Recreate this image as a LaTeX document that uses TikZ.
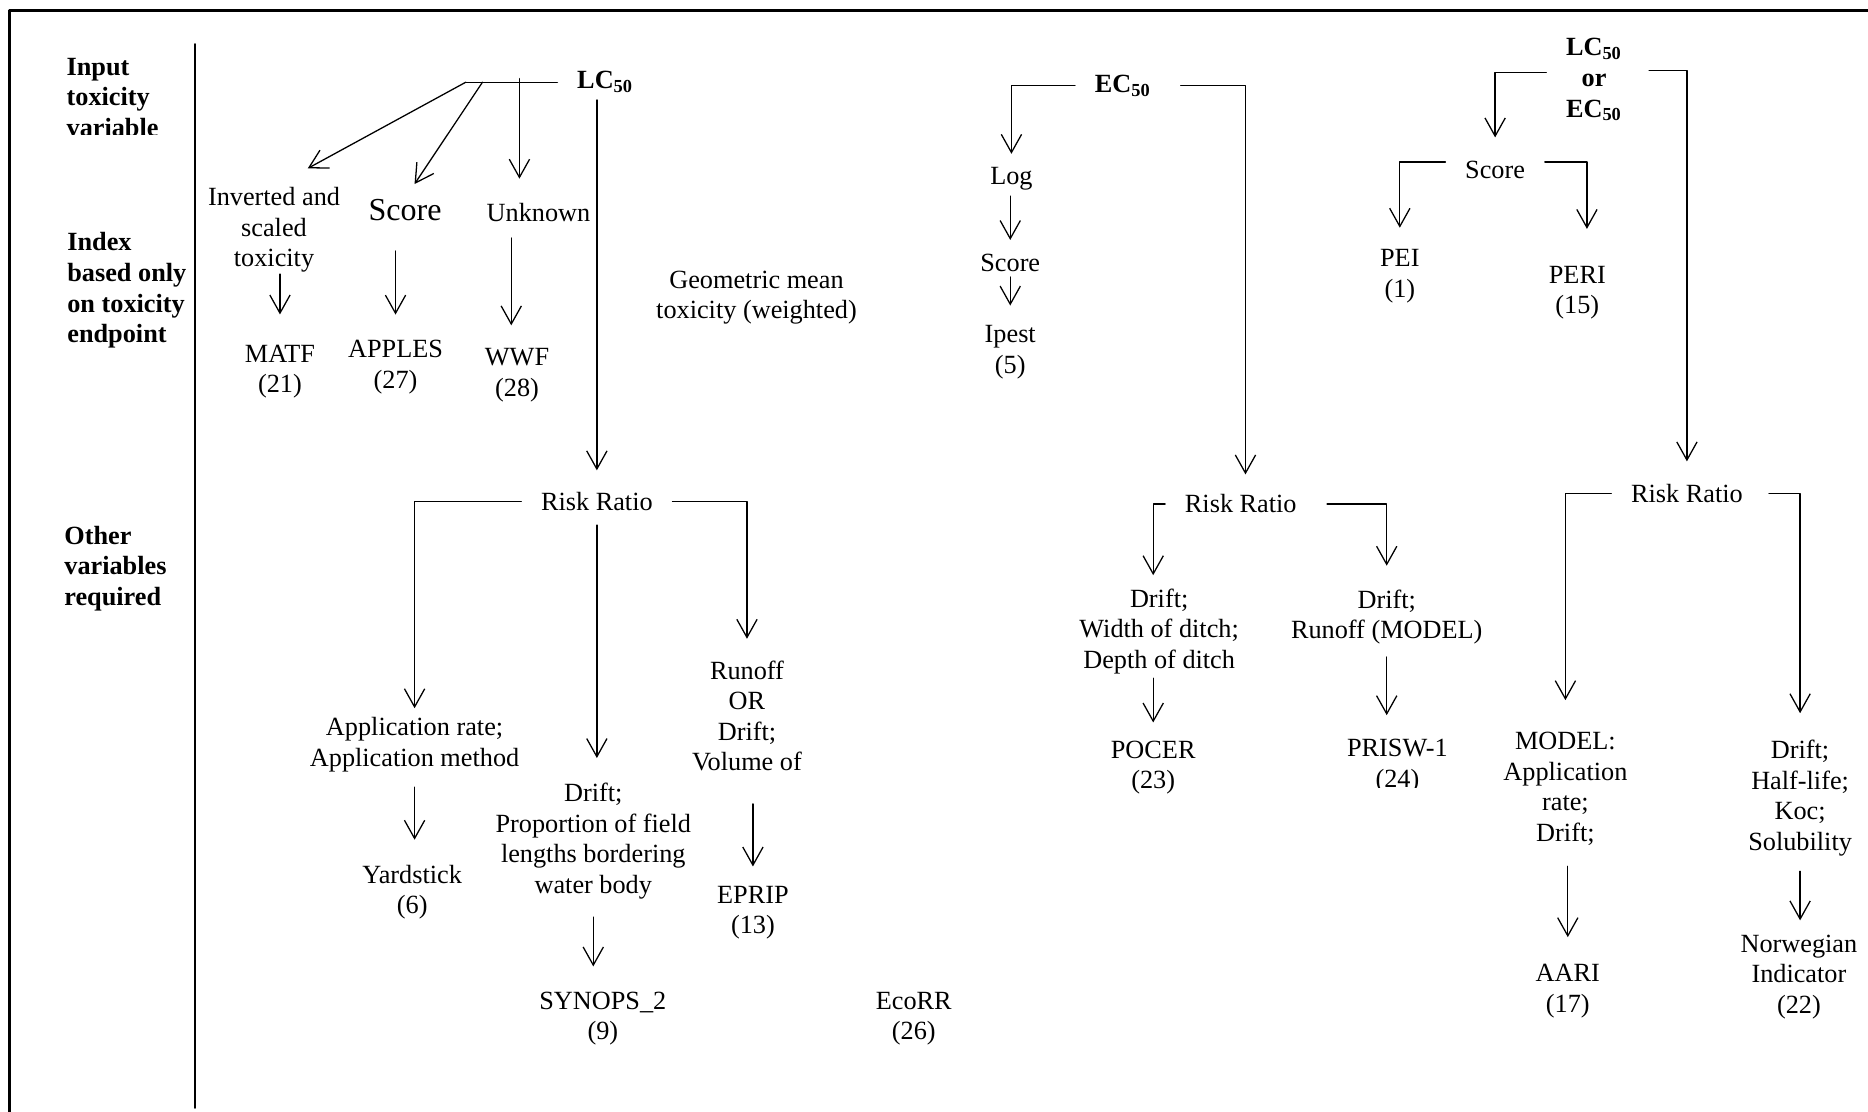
\documentclass[tikz,border=0pt]{standalone}
\usepackage{fontspec}
\setmainfont{Liberation Serif}
\usepackage{tikz}
\usetikzlibrary{arrows.meta}
\tikzset{
  txt/.style={font=\fontsize{12.3}{14.3}\selectfont, align=center, inner sep=0pt},
  hub/.style={txt, inner xsep=9pt},
  head/.style={hub, font=\fontsize{12.3}{14.3}\selectfont\bfseries},
  lbl/.style={txt, font=\fontsize{12.3}{14.3}\selectfont\bfseries, align=left, anchor=west},
  arr/.style={-{Straight Barb[length=8.5pt,width=9.5pt]}},
  every picture/.style={line cap=round, line join=round}
}

\begin{document}
\begin{tikzpicture}[x=1.961cm, y=-1.961cm, line width=0.6pt]
    \useasboundingbox (0,0) rectangle (15.68,9.33);
    \draw[line width=1.4pt] (0.082,9.40) -- (0.082,0.084) -- (15.75,0.084);
    \draw[line width=0.95pt] (1.64,0.37) -- (1.64,9.30);

    \begin{scope}
      \clip (0.3,0.3) rectangle (1.6,1.13);
      \node[lbl] (lblin) at (0.554,0.816) {Input\\toxicity\\variable};
    \end{scope}
    \node[lbl] (lblidx) at (0.56,2.438) {Index\\based only\\on toxicity\\endpoint};
    \node[lbl] (lbloth) at (0.535,4.77) {Other\\variables\\required};

    % LC50
    \node[head] (lc1) at (5.08,0.69) {LC\textsubscript{50}};
    \node[txt] (inv) at (2.30,1.93) {Inverted and\\scaled\\toxicity};
    \node[txt, font=\fontsize{15}{18}\selectfont] (sc1) at (3.40,1.76) {Score};
    \node[txt] (unk) at (4.52,1.78) {Unknown};
    \node[txt] (matf) at (2.35,3.12) {MATF\\(21)};
    \node[txt] (apples) at (3.32,3.08) {APPLES\\(27)};
    \node[txt] (wwf) at (4.34,3.15) {WWF\\(28)};
    \node[txt] (geo) at (6.35,2.50) {Geometric mean\\toxicity (weighted)};
    \node[hub] (rr1) at (5.01,4.21) {Risk Ratio};
    \node[txt] (appl) at (3.48,6.25) {Application rate;\\Application method};
    \node[txt] (yard) at (3.46,7.49) {Yardstick\\(6)};
    \node[txt] (drift1) at (4.98,7.06) {Drift;\\Proportion of field\\lengths bordering\\water body};
    \node[txt] (syn) at (5.06,8.55) {SYNOPS\_2\\(9)};
    \node[txt] (runoff) at (6.27,6.01) {Runoff\\OR\\Drift;\\Volume of};
    \node[txt] (eprip) at (6.32,7.66) {EPRIP\\(13)};
    \node[txt] (ecorr) at (7.67,8.55) {EcoRR\\(26)};

    \coordinate (lcfan) at (3.91,0.69);
    \coordinate (lcsc) at (4.05,0.69);
    \coordinate (lcun) at (4.36,0.66);
    \coordinate (wwftop) at ([xshift=-2.7pt]wwf.north);
    \draw (lc1.west) -- (lcfan);
    \draw[arr, shorten >=18pt] (lcfan) -- (inv.north);
    \draw[arr, shorten >=8pt] (lcsc) -- (sc1.north);
    \draw[arr, shorten >=11pt] (lcun) -- (lcun |- unk.north);
    \draw[arr, shorten <=0.5pt, shorten >=14pt] (matf.north |- inv.south) -- (matf.north);
    \draw[arr, shorten <=14pt, shorten >=11.7pt] (apples.north |- sc1.south) -- (apples.north);
    \draw[arr, shorten <=7.5pt, shorten >=10.6pt] (wwftop |- unk.south) -- (wwftop);
    \draw[arr, shorten <=3pt, shorten >=10pt] (rr1.north |- lc1.south) -- (rr1.north);

    \draw[arr, shorten >=4pt] (rr1.west) -| (appl.north);
    \draw[arr, shorten >=10pt] (rr1.east) -| (runoff.north);
    \draw[arr, shorten <=6.4pt, shorten >=11.5pt] (rr1.south) -- (rr1.south |- drift1.north);
    \draw[arr, shorten <=6.9pt, shorten >=11.6pt] (appl.south) -- (appl.south |- yard.north);
    \draw[arr, shorten <=8.2pt, shorten >=11.6pt] (drift1.south) -- (drift1.south |- syn.north);
    \draw[arr, shorten <=15pt, shorten >=8.8pt] (eprip.north |- runoff.south) -- (eprip.north);

    % EC50
    \node[head] (ec2) at (9.425,0.72) {EC\textsubscript{50}};
    \node[txt] (log) at (8.49,1.50) {Log};
    \node[txt] (sc2) at (8.48,2.21) {Score};
    \node[txt] (ipest) at (8.48,2.955) {Ipest\\(5)};
    \node[hub] (rr2) at (10.415,4.23) {Risk Ratio};
    \node[txt] (ditch) at (9.73,5.30) {Drift;\\Width of ditch;\\Depth of ditch};
    \node[txt] (pocer) at (9.68,6.445) {POCER\\(23)};
    \node[txt] (runm) at (11.64,5.18) {Drift;\\Runoff (MODEL)};
    \begin{scope}
      \clip (11.0,6.0) rectangle (12.5,6.61);
      \node[txt] (prisw) at (11.73,6.43) {PRISW-1\\(24)};
    \end{scope}

    \draw[arr, shorten >=6pt] (ec2.west) -| (log.north);
    \draw[arr, shorten <=4.7pt, shorten >=9.2pt] (ec2.east) -| ([xshift=2.2pt]rr2.north);
    \draw[arr, shorten <=2.5pt, shorten >=6.5pt] (sc2.north |- log.south) -- (sc2.north);
    \draw[arr, shorten <=2pt, shorten >=9pt] (sc2.south) -- (ipest.north);
    \draw[arr, shorten >=6.1pt] (rr2.west) -| (pocer.north |- ditch.north);
    \draw[arr, shorten <=5pt, shorten >=11pt] (rr2.east) -| (runm.north);
    \draw[arr, shorten <=1.7pt, shorten >=8.4pt] (pocer.north |- ditch.south) -- (pocer.north);
    \draw[arr, shorten <=5.6pt, shorten >=11pt] (runm.south) -- (runm.south |- prisw.north);

    % LC50 or EC50
    \node[head] (lcec) at (13.38,0.67) {LC\textsubscript{50}\\or\\EC\textsubscript{50}};
    \node[hub] (sc3) at (12.55,1.43) {Score};
    \node[txt] (pei) at (11.75,2.32) {PEI\\(1)};
    \node[txt] (peri) at (13.24,2.455) {PERI\\(15)};
    \node[hub] (rr3) at (14.16,4.14) {Risk Ratio};
    \node[txt] (model) at (13.14,6.62) {MODEL:\\Application\\rate;\\Drift;};
    \node[txt] (halfl) at (15.11,6.70) {Drift;\\Half-life;\\Koc;\\Solubility};
    \node[txt] (aari) at (13.16,8.32) {AARI\\(17)};
    \node[txt] (norw) at (15.10,8.20) {Norwegian\\Indicator\\(22)};

    \draw[arr, shorten >=11pt] ([yshift=3.5pt]lcec.west) -| (sc3.north);
    \draw[arr, shorten <=3.4pt, shorten >=10.3pt] ([yshift=4.5pt]lcec.east) -| (rr3.north);
    \draw[arr, shorten >=10pt] ([yshift=3.9pt]sc3.west) -| (pei.north);
    \draw[arr, shorten >=17pt] ([yshift=3.9pt]sc3.east) -| ([xshift=4.5pt]peri.north);
    \draw[arr, shorten >=14.7pt] (rr3.west) -| (model.north);
    \draw[arr, shorten <=3pt, shorten >=12.4pt] (rr3.east) -| (halfl.north);
    \draw[arr, shorten <=9.6pt, shorten >=12.5pt] (aari.north |- model.south) -- (aari.north);
    \draw[arr, shorten <=6.8pt, shorten >=6.5pt] (halfl.south) -- (halfl.south |- norw.north);
\end{tikzpicture}
\end{document}
